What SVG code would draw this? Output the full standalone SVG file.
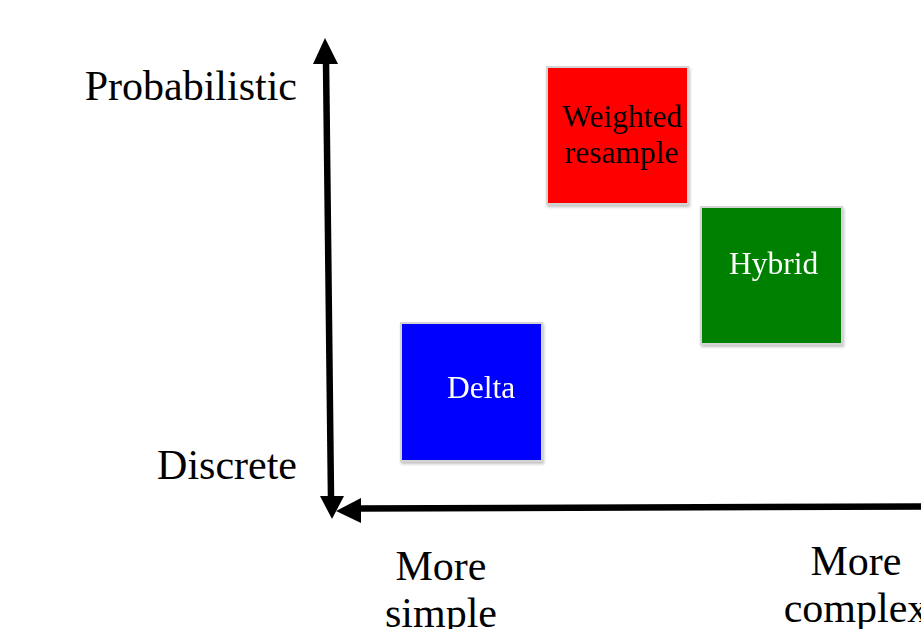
<svg xmlns="http://www.w3.org/2000/svg" width="921" height="629" viewBox="0 0 921 629">
  <style>
    .axis { stroke: #000; stroke-width: 6.5; fill: none; }
    .head { fill: #000; }
    .label { font-family: "Liberation Serif", "Times New Roman", serif; font-size: 42px; fill: #000; }
    .box { stroke: #d4d4d4; stroke-width: 2; }
    .boxtext { font-family: "Liberation Serif", "Times New Roman", serif; font-size: 31.5px; }
  </style>
  <defs>
    <filter id="shadow" x="-10%" y="-10%" width="130%" height="130%">
      <feGaussianBlur in="SourceAlpha" stdDeviation="1.5"/>
      <feOffset dx="1" dy="2" result="b"/>
      <feComponentTransfer><feFuncA type="linear" slope="0.25"/></feComponentTransfer>
      <feMerge><feMergeNode/><feMergeNode in="SourceGraphic"/></feMerge>
    </filter>
  </defs>
  <rect width="921" height="629" fill="#fff"/>

  <!-- axes -->
  <g id="connectors">
    <line class="axis" x1="326" y1="60" x2="331" y2="498"/>
    <polygon class="head" points="325,38 338,64 313,64"/>
    <polygon class="head" points="332,519 344,496 320,496"/>
    <line class="axis" x1="356" y1="508.5" x2="921" y2="506.5"/>
    <polygon class="head" points="336,511 361,498 361,523"/>
  </g>

  <!-- axis labels -->
  <g id="axis-labels" class="label">
    <text x="297" y="100" text-anchor="end">Probabilistic</text>
    <text x="297" y="479" text-anchor="end">Discrete</text>
    <text x="441" y="580" text-anchor="middle">More</text>
    <text x="441" y="627" text-anchor="middle">simple</text>
    <text x="856" y="575" text-anchor="middle">More</text>
    <text x="856" y="622" text-anchor="middle">complex</text>
  </g>

  <g id="weighted-resample" filter="url(#shadow)">
    <rect class="box" x="547" y="67" width="141" height="137" fill="#ff0000"/>
    <text class="boxtext" x="562.5" y="127" fill="#000">Weighted</text>
    <text class="boxtext" x="565" y="163" fill="#000">resample</text>
  </g>

  <g id="hybrid" filter="url(#shadow)">
    <rect class="box" x="701" y="207" width="141" height="137" fill="#008000"/>
    <text class="boxtext" x="729" y="274" fill="#fff">Hybrid</text>
  </g>

  <g id="delta" filter="url(#shadow)">
    <rect class="box" x="401" y="323" width="141" height="138" fill="#0000ff"/>
    <text class="boxtext" x="447" y="398" fill="#fff">Delta</text>
  </g>
</svg>
